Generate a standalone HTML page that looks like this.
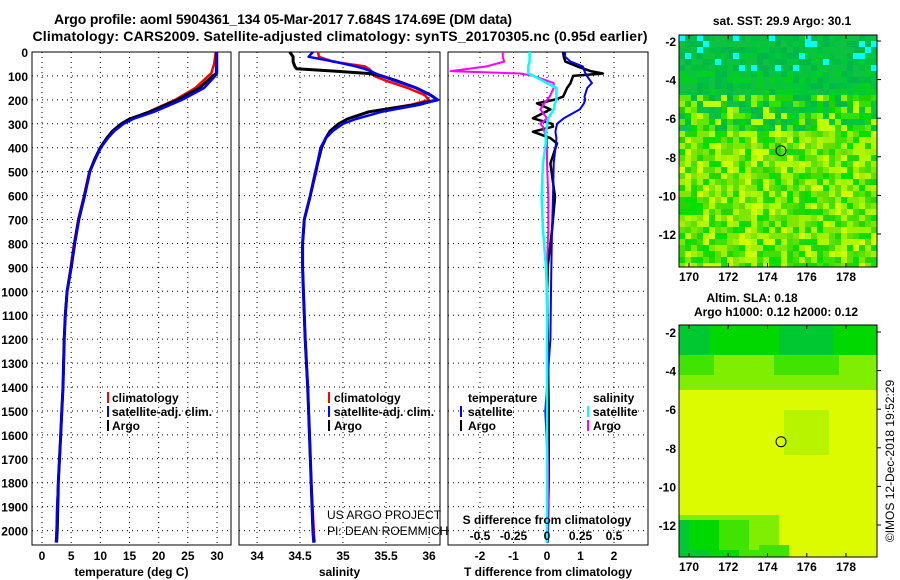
<!DOCTYPE html>
<html><head><meta charset="utf-8"><style>
body{margin:0;background:#fff}
svg{display:block;font-family:"Liberation Sans",sans-serif;font-weight:bold}
</style></head><body>
<svg id="c" width="900" height="580" viewBox="0 0 900 580">
<text x="283" y="24" text-anchor="middle" font-size="14" textLength="458">Argo profile: aoml 5904361_134 05-Mar-2017 7.684S 174.69E (DM data)</text>
<text x="340" y="41" text-anchor="middle" font-size="14" textLength="615">Climatology: CARS2009. Satellite-adjusted climatology: synTS_20170305.nc (0.95d earlier)</text>
<g id="g"></g>
</svg>
<script>
// ---- data ----
const depthTicks=[0,100,200,300,400,500,600,700,800,900,1000,1100,1200,1300,1400,1500,1600,1700,1800,1900,2000];
const tempTicks=[0,5,10,15,20,25,30];
const salTicks=[34,34.5,35,35.5,36];
const tdTicks=[-2,-1,0,1,2];
const sdTicks=[-0.5,-0.25,0,0.25,0.5];
const lonTicks=[170,172,174,176,178];
const latTicks=[-2,-4,-6,-8,-10,-12];

const tDepth=[0,50,90,100,150,200,250,280,300,330,360,400,450,500,600,700,800,900,1000,1100,1200,1300,1400,1500,1600,1700,1800,1900,2000,2050];
const tArgo=[29.9,29.9,29.9,29.3,27.0,23.2,18.5,15.0,13.6,12.1,11.1,10.0,9.0,8.2,7.3,6.3,5.6,5.0,4.3,4.0,3.8,3.7,3.6,3.4,3.2,3.0,2.8,2.7,2.6,2.5];
const tClim=[29.8,29.5,29.0,28.5,26.3,22.8,18.3,15.1,13.8,12.2,11.2,10.0,9.1,8.1,7.2,6.2,5.5,4.9,4.3,4.0,3.8,3.7,3.6,3.4,3.2,3.0,2.8,2.6,2.5,2.4];
const tSat=[30.0,30.0,30.0,29.7,27.8,24.0,19.2,15.6,14.0,12.4,11.3,10.1,9.1,8.2,7.3,6.3,5.6,5.0,4.3,4.0,3.8,3.7,3.6,3.4,3.2,3.0,2.8,2.6,2.5,2.4];

const sDepth=[0,20,40,60,70,80,90,100,120,150,180,200,220,250,280,300,330,360,400,500,600,700,800,900,1000,1200,1400,1600,1800,2000,2050];
const sArgo=[34.38,34.42,34.42,34.44,34.46,34.9,35.3,35.45,35.62,35.85,36.02,36.1,35.85,35.3,35.05,34.95,34.85,34.8,34.75,34.68,34.62,34.55,34.53,34.53,34.54,34.56,34.59,34.61,34.63,34.65,34.66];
const sClim=[34.71,34.72,34.88,35.25,35.3,35.33,35.35,35.36,35.5,35.75,35.95,36.0,35.8,35.3,35.05,34.98,34.88,34.8,34.74,34.69,34.62,34.55,34.53,34.53,34.54,34.56,34.59,34.61,34.63,34.66,34.67];
const sSat=[34.65,34.6,34.9,35.15,35.25,35.32,35.38,35.45,35.6,35.85,36.02,36.1,35.9,35.45,35.15,35.0,34.88,34.8,34.74,34.68,34.62,34.55,34.53,34.53,34.54,34.56,34.59,34.61,34.63,34.65,34.66];

const dDepth=[0,20,40,60,80,90,100,130,150,187,200,215,240,277,300,312,333,360,382,466,605,745,885,1000,1200,1500,1800,2050];
const dtArgo=[0.48,0.5,0.55,0.9,1.3,1.67,0.78,0.7,0.6,0.48,0.2,-0.3,0.1,-0.42,0.15,0.18,-0.42,0.1,0.3,0.1,0.24,0.15,0.03,0.0,0.02,0.05,0.05,0.0];
const dtSat=[0.54,0.54,0.7,1.07,1.12,1.15,1.19,1.34,1.2,1.12,1.14,1.1,0.98,0.5,0.3,0.28,0.25,0.28,0.27,0.2,0.18,0.15,0.13,0.12,0.1,-0.05,0.05,0.03];
const dsArgo=[-0.33,-0.33,-0.32,-0.45,-0.72,-0.2,-0.1,0.05,0.05,0.02,0.0,-0.02,-0.05,0.0,-0.05,-0.03,-0.02,0.0,0.0,0.0,0.01,0.01,0.0,0.0,0.0,0.0,0.01,0.0];
const dsSat=[-0.13,-0.13,-0.13,-0.14,-0.14,-0.14,-0.1,0.0,0.07,0.07,0.07,0.06,0.05,0.01,0.0,0.0,-0.01,-0.01,-0.01,-0.03,-0.04,-0.03,-0.01,0.0,0.0,0.0,0.0,0.0];

// ---- helpers ----
const NS='http://www.w3.org/2000/svg';
const G=document.getElementById('g');
function el(t,a,p){const e=document.createElementNS(NS,t);for(const k in a)e.setAttribute(k,a[k]);(p||G).appendChild(e);return e;}
const PT=52,PB=545;
const yD=d=>PT+d*0.2393;
function lin(d0,d1,r0,r1){return v=>r0+(v-d0)/(d1-d0)*(r1-r0);}
const xT=lin(0,30,42,217), xS=lin(34,36,257,429), xTD=lin(-2,2,480,614), xSD=lin(-0.5,0.5,480,614);

function panel(x0,x1,name,xticks,xf,xlab){
  const r=el('rect',{x:x0,y:PT,width:x1-x0,height:PB-PT,fill:'none',stroke:'#000','stroke-width':1});
  
  
  depthTicks.forEach(d=>{
    const l=el('line',{x1:x0,x2:x1,y1:yD(d),y2:yD(d),stroke:'#000','stroke-dasharray':'1,4'});
    
    
  });
  xticks.forEach(v=>{
    const l=el('line',{x1:xf(v),x2:xf(v),y1:PT,y2:PB,stroke:'#000','stroke-dasharray':'1,4'});
    
    
    const t=el('text',{x:xf(v),y:560,'text-anchor':'middle','font-size':12});
    t.textContent=String(v);
    
    
  });
  const t=el('text',{x:(x0+x1)/2,y:576,'text-anchor':'middle','font-size':12});
  t.textContent=xlab;
  
  
}
function line(xs,ds,xf,col,w,name){
  const pts=xs.map((v,i)=>xf(v).toFixed(1)+','+yD(ds[i]).toFixed(1)).join(' ');
  const p=el('polyline',{points:pts,fill:'none',stroke:col,'stroke-width':w,'stroke-linejoin':'round'});
  
  
}
function txt(x,y,s,name,size,anchor,extra){
  const t=el('text',Object.assign({x:x,y:y,'font-size':size||12,'text-anchor':anchor||'start'},extra||{}));
  t.textContent=s;
  
  
  return t;
}
function mark(x,y,col,name){
  const r=el('rect',{x:x,y:y-10,width:2,height:11,fill:col});
  
  
}

depthTicks.forEach(d=>{txt(28,yD(d)+5,String(d),'depth-tick-label',12,'end');});

panel(32,231,'temperature-panel',tempTicks,xT,'temperature (deg C)');
line(tClim,tDepth,xT,'#ff0000',2.5,'temp-climatology-line');
line(tArgo,tDepth,xT,'#000',3,'temp-argo-line');
line(tSat,tDepth,xT,'#0000ff',2.5,'temp-satellite-line');
mark(107,402,'#f00','legend-climatology-mark');txt(112,402,'climatology','legend-climatology');
mark(107,416,'#00f','legend-satellite-mark');txt(112,416,'satellite-adj. clim.','legend-satellite');
mark(107,430,'#000','legend-argo-mark');txt(112,430,'Argo','legend-argo');

panel(239,440,'salinity-panel',salTicks,xS,'salinity');
line(sClim,sDepth,xS,'#ff0000',2.5,'sal-climatology-line');
line(sArgo,sDepth,xS,'#000',3,'sal-argo-line');
line(sSat,sDepth,xS,'#0000ff',2.5,'sal-satellite-line');
mark(328,402,'#f00','legend2-climatology-mark');txt(334,402,'climatology','legend2-climatology');
mark(328,416,'#00f','legend2-satellite-mark');txt(334,416,'satellite-adj. clim.','legend2-satellite');
mark(328,430,'#000','legend2-argo-mark');txt(334,430,'Argo','legend2-argo');
txt(327,519,'US ARGO PROJECT','credit-project',12,'start',{'font-weight':'normal'});
txt(327,535,'PI: DEAN ROEMMICH','credit-pi',12,'start',{'font-weight':'normal'});

panel(448,648,'difference-panel',tdTicks,xTD,'T difference from climatology');
line(dtArgo,dDepth,xTD,'#000',2.5,'tdiff-argo-line');
line(dtSat,dDepth,xTD,'#0000ff',2,'tdiff-satellite-line');
line(dsArgo,dDepth,xSD,'#ff00ff',2,'sdiff-argo-line');
line(dsSat,dDepth,xSD,'#00ffff',2.5,'sdiff-satellite-line');
txt(468,402,'temperature','legend3-temperature-header');
mark(460,416,'#00f','legend3-tsat-mark');txt(468,416,'satellite','legend3-tsat');
mark(460,430,'#000','legend3-targo-mark');txt(468,430,'Argo','legend3-targo');
txt(593,402,'salinity','legend3-salinity-header');
mark(587,416,'#0ff','legend3-ssat-mark');txt(593,416,'satellite','legend3-ssat');
mark(587,430,'#f0f','legend3-sargo-mark');txt(593,430,'Argo','legend3-sargo');
txt(547,524,'S difference from climatology','sdiff-axis-title',12,'middle');
sdTicks.forEach(v=>txt(xSD(v),540,String(v),'sdiff-tick-label',12,'middle'));

// maps
function hash(i,j,s){let h=(i*374761393+j*668265263+s*1442695041)|0;h=(h^(h>>>13))*1274126177|0;return ((h^(h>>>16))>>>0)/4294967296;}
const MX0=679,MW=198;
const lonX=lin(170,178,689,846);
function sstColor(fx,fy,q,q2){
  // fy: 0 top .. 1 bottom
  const dark=['#00c040','#00b848','#00c838','#10c040'];
  const mixed=['#00d800','#30e000','#60e800','#90f000','#c0ff00','#00c840','#20d000'];
  const yel=['#40e000','#80e800','#b0f800','#d0ff00','#00e000','#60e000','#a0f000','#20d800'];
  if(fy<0.13) return q<0.13?'#00ffff':dark[Math.floor(q2*4)];
  if(fy<0.25) return q<0.7?dark[Math.floor(q2*4)]:'#00d020';
  if(fy<0.4) return q<0.35?dark[Math.floor(q2*4)]:mixed[Math.floor(q2*7)];
  return yel[Math.floor(q*8)];
}
function slaColor(fx,fy){
  let v=0.9;
  if(fy<0.12) v=0.15+0.25*Math.abs(Math.sin(fx*5));
  else if(fy<0.2) v=0.45+0.2*Math.abs(Math.sin(fx*5));
  else if(fy<0.26) v=0.72;
  if(fx>0.5&&fx<0.75&&fy>0.35&&fy<0.55) v=0.78;
  if(fy>0.82&&fx<0.38) v=0.25+ (fx)*1.0 + (fy>0.95?-0.1:0);
  else if(fy>0.8&&fx<0.5) v=Math.min(v,0.7);
  if(fy>0.93&&fx>0.38&&fx<0.55) v=0.55;
  return v<0.3?'#00c830':v<0.45?'#00d800':v<0.6?'#40e400':v<0.75?'#80ee00':v<0.82?'#b8f400':'#dcfa00';
}
function map(y0,h,latTop,latBot,kind,name){
  const x0=MX0,w=MW,cs=kind===1?6:5, nc=Math.ceil(w/cs), nr=Math.ceil(h/cs);
  const gg=el('g',{});
  
  
  for(let r=0;r<nr;r++)for(let c=0;c<nc;c++){
    const fx=c/nc, fy=r/nr;
    const col= kind===1? sstColor(fx,fy,hash(c,r,1),hash(c,r,7)) : slaColor(fx,fy);
    el('rect',{x:x0+c*cs,y:y0+r*cs,width:Math.min(cs,w-c*cs)+0.3,height:Math.min(cs,h-r*cs)+0.3,fill:col},gg);
  }
  const fr=el('rect',{x:x0,y:y0,width:w,height:h,fill:'none',stroke:'#000'});
  
  
  const ly=lin(-2,-12,latTop,latBot);
  lonTicks.forEach(v=>{el('line',{x1:lonX(v),x2:lonX(v),y1:y0+h,y2:y0+h-4,stroke:'#000'});el('line',{x1:lonX(v),x2:lonX(v),y1:y0,y2:y0+4,stroke:'#000'});txt(lonX(v),y0+h+14,String(v),'lon-tick-label',12,'middle');});
  latTicks.forEach(v=>{el('line',{x1:x0+w,x2:x0+w+4,y1:ly(v),y2:ly(v),stroke:'#000'});txt(x0-3,ly(v)+5,String(v),'lat-tick-label',12,'end');});
  const ci=el('circle',{cx:lonX(174.69),cy:ly(-7.684),r:5,fill:'none',stroke:'#000'});
  
  
}
map(35,232,41,234,1,'sst-map');
map(325,232,332,525,2,'sla-map');
txt(782,25,'sat. SST: 29.9 Argo: 30.1','sst-map-title',12,'middle');
txt(752,302,'Altim. SLA: 0.18','sla-map-title',12,'middle');
txt(776,316,'Argo h1000: 0.12 h2000: 0.12','sla-map-subtitle',12,'middle');
txt(0,0,'©IMOS 12-Dec-2018 19:52:29','timestamp',12,'middle',{transform:'translate(894,461) rotate(-90)','font-weight':'normal'});
</script>
</body></html>
